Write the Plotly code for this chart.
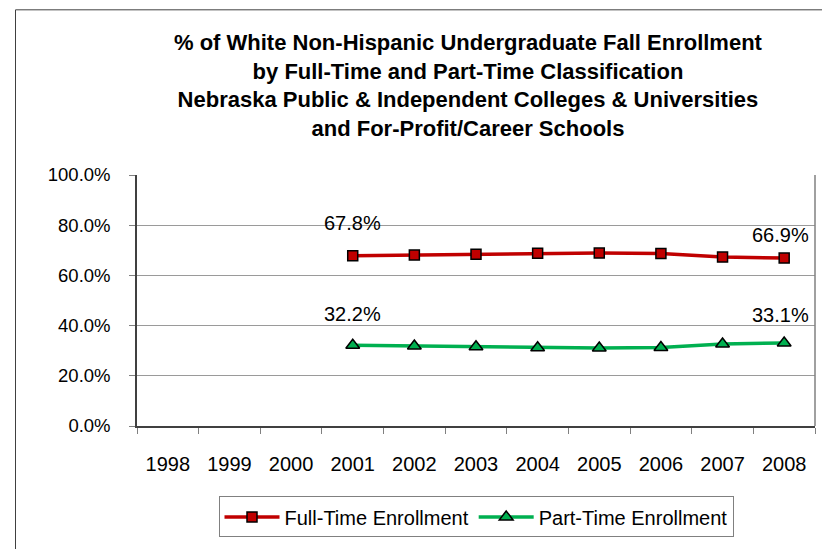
import plotly.graph_objects as go

years = ["1998", "1999", "2000", "2001", "2002", "2003", "2004", "2005", "2006", "2007", "2008"]
full_time = [None, None, None, 67.8, 68.1, 68.4, 68.8, 68.9, 68.7, 67.3, 66.9]
part_time = [None, None, None, 32.2, 31.9, 31.6, 31.2, 31.1, 31.3, 32.7, 33.1]
y_ticks = [0, 20, 40, 60, 80, 100]

title_lines = [
    "% of White Non-Hispanic Undergraduate Fall Enrollment",
    "by Full-Time and Part-Time Classification",
    "Nebraska Public & Independent Colleges & Universities",
    "and For-Profit/Career Schools",
]

OFF = 8  # page body margin
PW, PH = 830, 549
W, H = PW - OFF, PH - OFF
# plot area in page pixels
PL, PR, PT, PB = 137, 815, 175, 428
L, T = PL - OFF, PT - OFF
R = W - (PR - OFF)
B = H - (PB - OFF)
pw = PR - PL
ph = PB - PT

FONT = "Liberation Sans, Arial, sans-serif"

def px_x(p):
    return (p - PL) / pw
def px_y(p):
    return (PB - p) / ph

fig = go.Figure()
fig.add_trace(go.Scatter(
    x=years, y=full_time, name="Full-Time Enrollment", mode="lines+markers",
    line=dict(color="#C00000", width=3.5),
    marker=dict(symbol="square", size=10, color="#C00000", line=dict(color="black", width=1.5)),
    connectgaps=False,
))
fig.add_trace(go.Scatter(
    x=years, y=part_time, name="Part-Time Enrollment", mode="lines+markers",
    line=dict(color="#00B050", width=3.5),
    marker=dict(symbol="triangle-up", size=12, color="#00B050", line=dict(color="black", width=1.5)),
    connectgaps=False,
))

def first_last(vals):
    idx = [i for i, v in enumerate(vals) if v is not None]
    return idx[0], idx[-1]

annots = []
for vals, shifts in ((full_time, (33, 23)), (part_time, (31, 28))):
    i0, i1 = first_last(vals)
    for i, s, xs in ((i0, shifts[0], 0), (i1, shifts[1], -4)):
        annots.append(dict(x=i, y=vals[i], xref="x", yref="y", text=f"{vals[i]:.1f}%", showarrow=False,
                           yshift=s, xshift=xs, font=dict(family=FONT, size=20, color="black")))

# title as one multi-line text block
annots.append(dict(x=px_x(468), y=px_y(85), xref="paper", yref="paper",
                   text="<b>" + "<br>".join(title_lines) + "</b>",
                   showarrow=False, xanchor="center", yanchor="middle", align="center",
                   font=dict(family=FONT, size=22, color="black")))

shapes = [
    dict(type="line", xref="paper", yref="paper", x0=px_x(15.5), x1=px_x(15.5), y0=px_y(8.5), y1=px_y(PH + 5),
         line=dict(color="#404040", width=1)),
    dict(type="line", xref="paper", yref="paper", x0=px_x(15.5), x1=px_x(PW + 5), y0=px_y(8.5), y1=px_y(8.5),
         line=dict(color="#404040", width=1)),
    dict(type="line", xref="paper", yref="paper", x0=1, x1=1, y0=0, y1=1,
         line=dict(color="#808080", width=1.5)),
]

fig.update_layout(
    width=W, height=H,
    margin=dict(l=L, r=R, t=T, b=B, pad=0),
    paper_bgcolor="white", plot_bgcolor="white",
    font=dict(family=FONT, size=18, color="black"),
    xaxis=dict(type="category", categoryorder="array", categoryarray=years,
               range=[-0.5, len(years) - 0.5],
               showgrid=False, showline=True, linecolor="#404040", linewidth=1.5,
               ticks="outside", tickson="boundaries", ticklen=6, tickcolor="#808080",
               ticklabelstandoff=19,
               tickfont=dict(family=FONT, size=20, color="black")),
    yaxis=dict(range=[0, 100], tickvals=y_ticks, ticktext=[f"{v:.1f}%" for v in y_ticks],
               showgrid=True, gridcolor="#9A9A9A", gridwidth=1,
               showline=True, linecolor="#404040", linewidth=1.5,
               ticks="outside", ticklen=6, tickcolor="#808080", zeroline=False,
               ticklabelstandoff=15,
               tickfont=dict(family=FONT, size=18.5, color="black")),
    legend=dict(orientation="h", x=px_x(476), xanchor="center", y=px_y(499), yanchor="top",
                bordercolor="#808080", borderwidth=1, bgcolor="white",
                font=dict(family=FONT, size=20, color="black"), itemwidth=55),
    annotations=annots,
    shapes=shapes,
    showlegend=True,
)

fig.write_html("out.html")
